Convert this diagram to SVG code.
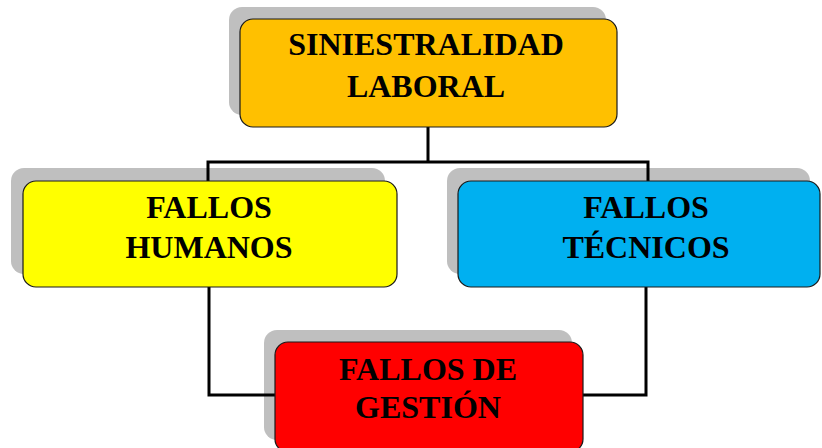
<svg xmlns="http://www.w3.org/2000/svg" width="822" height="448" viewBox="0 0 822 448">
<style>
.shadow{fill:#BFBFBF}
.box{stroke:#1a1a1a;stroke-width:1.2}
.conn{fill:none;stroke:#000;stroke-width:3}
text{font-family:"Liberation Serif","Times New Roman",serif;font-weight:bold;font-size:32px;fill:#000;text-anchor:middle}
</style>
<rect width="822" height="448" fill="#fff"/>
<g id="shadows">
<rect class="shadow" x="229" y="7" width="377" height="108" rx="13"/>
<rect class="shadow" x="11" y="168" width="374" height="106" rx="13"/>
<rect class="shadow" x="447" y="168" width="363" height="106" rx="13"/>
<rect class="shadow" x="264" y="330" width="308" height="110" rx="13"/>
</g>
<g id="connectors">
<path class="conn" d="M428 127V162M208 181V162H648V181"/>
<path class="conn" d="M209 287V395H275"/>
<path class="conn" d="M646 287V395H583"/>
</g>
<g id="siniestralidad">
<rect class="box" x="240" y="19" width="377" height="108" rx="13" fill="#FFC000"/>
<text x="426" y="55">SINIESTRALIDAD</text>
<text x="426" y="97">LABORAL</text>
</g>
<g id="humanos">
<rect class="box" x="23" y="181" width="374" height="106" rx="13" fill="#FFFF00"/>
<text x="209" y="218">FALLOS</text>
<text x="209" y="258">HUMANOS</text>
</g>
<g id="tecnicos">
<rect class="box" x="458" y="181" width="362" height="106" rx="13" fill="#00B0F0"/>
<text x="646" y="218">FALLOS</text>
<text x="646" y="258">TÉCNICOS</text>
</g>
<g id="gestion">
<rect class="box" x="275" y="342" width="308" height="110" rx="13" fill="#FF0000"/>
<text x="428" y="380">FALLOS DE</text>
<text x="428" y="418">GESTIÓN</text>
</g>
</svg>
